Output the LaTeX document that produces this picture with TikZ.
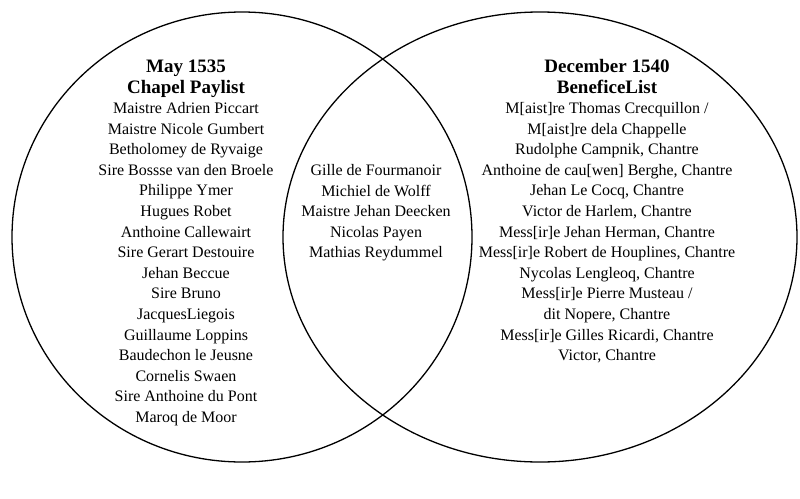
\documentclass[tikz,border=0pt]{standalone}
\usepackage{fontspec}
\setmainfont{Liberation Serif}
\usetikzlibrary{positioning}

\tikzset{
  person/.style={font=\fontsize{16}{20.6}\selectfont, anchor=base, inner sep=0pt},
  heading/.style={font=\fontsize{19}{21}\selectfont\bfseries, anchor=base, inner sep=0pt},
  circ/.style={line width=1.3pt}
}

\begin{document}
\begin{tikzpicture}[x=1pt,y=-1pt]
  \useasboundingbox (0,0) rectangle (800,498);
  % the two lists
  \draw[circ] (242,237) ellipse [x radius=230, y radius=225];
  \draw[circ] (540,237) ellipse [x radius=257, y radius=225];
  % headings
  \node[heading] (mayA) at (186,72) {May 1535};
  \node[heading] (mayB) at (186,93) {Chapel Paylist};
  \node[heading] (decA) at (607,72) {December 1540};
  \node[heading] (decB) at (607,93) {BeneficeList};
  % paylist only
  \foreach \who [count=\i] in {Maistre Adrien Piccart, Maistre Nicole Gumbert,
      Betholomey de Ryvaige, Sire Bossse van den Broele, Philippe Ymer,
      Hugues Robet, Anthoine Callewairt, Sire Gerart Destouire, Jehan Beccue,
      Sire Bruno, JacquesLiegois, Guillaume Loppins, Baudechon le Jeusne,
      Cornelis Swaen, Sire Anthoine du Pont, Maroq de Moor}
    \node[person] (pay\i) at (186,{113.5+20.6*(\i-1)}) {\who};
  % on both lists
  \foreach \who [count=\i] in {Gille de Fourmanoir, Michiel de Wolff,
      Maistre Jehan Deecken, Nicolas Payen, Mathias Reydummel}
    \node[person] (both\i) at (376,{175.5+20.6*(\i-1)}) {\who};
  % benefice list only
  \foreach \who [count=\i] in {{M[aist]re Thomas Crecquillon /},
      {M[aist]re dela Chappelle}, {Rudolphe Campnik, Chantre},
      {Anthoine de cau[wen] Berghe, Chantre}, {Jehan Le Cocq, Chantre},
      {Victor de Harlem, Chantre}, {Mess[ir]e Jehan Herman, Chantre},
      {Mess[ir]e Robert de Houplines, Chantre}, {Nycolas Lengleoq, Chantre},
      {Mess[ir]e Pierre Musteau /}, {dit Nopere, Chantre},
      {Mess[ir]e Gilles Ricardi, Chantre}, {Victor, Chantre}}
    \node[person] (ben\i) at (607,{113.5+20.6*(\i-1)}) {\who};
\end{tikzpicture}
\end{document}
